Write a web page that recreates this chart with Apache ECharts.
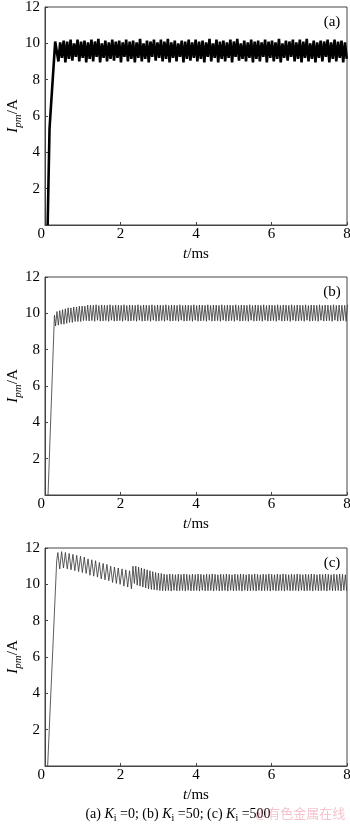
<!DOCTYPE html>
<html>
<head>
<meta charset="utf-8">
<script src="https://cdn.jsdelivr.net/npm/echarts@6/dist/echarts.min.js"></script>
<style>
html, body { margin: 0; padding: 0; background: #fff; }
#chart { width: 350px; height: 825px; }
</style>
</head>
<body>
<div id="chart"></div>
<script>
// 坐标刻度
var xTicks = [0, 2, 4, 6, 8];
var yTicks = [0, 2, 4, 6, 8, 10, 12];
var panelTags = ['(a)', '(b)', '(c)'];

// (a) Ki = 0 : 启动段 + 稳态纹波（每 0.046 ms 一个读数）
var aRiseT = [0.07, 0.12, 0.16, 0.27];
var aRiseV = [0, 5.3, 6.6, 10.1];
var aStart = 0.31, aStep = 0.046;
var aRipple = [
  10.2, 9.0, 10.05, 9.2,     10.15, 8.95, 10.1, 9.15,  10.2, 9.05, 10.0, 9.25,
  10.2, 9.0, 10.1, 9.2,      10.15, 8.95, 10.05, 9.15, 10.2, 9.0, 10.1, 9.25,
  10.25, 8.95, 10.0, 9.2,    10.15, 9.0, 10.05, 9.15,  10.2, 9.05, 10.1, 9.2,
  10.15, 8.95, 10.05, 9.25,  10.2, 9.0, 10.1, 9.15,    10.15, 8.95, 10.05, 9.2,
  10.25, 9.0, 10.0, 9.15,    10.15, 8.95, 10.1, 9.25,  10.2, 9.05, 10.05, 9.2,
  10.2, 9.0, 10.1, 9.15,     10.25, 8.95, 10.05, 9.2,  10.15, 9.0, 10.0, 9.25,
  10.15, 8.95, 10.1, 9.15,   10.2, 9.05, 10.05, 9.2,   10.2, 9.0, 10.1, 9.15,
  10.15, 8.95, 10.05, 9.25,  10.25, 9.0, 10.0, 9.2,    10.2, 8.95, 10.1, 9.15,
  10.15, 9.0, 10.05, 9.2,    10.2, 8.95, 10.1, 9.25,   10.25, 9.05, 10.0, 9.15,
  10.15, 9.0, 10.05, 9.2,    10.2, 8.95, 10.1, 9.15,   10.15, 9.0, 10.05, 9.25,
  10.2, 8.95, 10.1, 9.2,     10.15, 9.0, 10.05, 9.15,  10.25, 8.95, 10.0, 9.2,
  10.15, 9.05, 10.1, 9.25,   10.2, 9.0, 10.05, 9.15,   10.2, 8.95, 10.1, 9.2,
  10.25, 9.0, 10.0, 9.15,    10.15, 8.95, 10.05, 9.2,  10.15, 9.0, 10.1, 9.25,
  10.2, 8.95, 10.05, 9.15,   10.2, 9.0, 10.1, 9.2,     10.15, 8.95, 10.05, 9.15
];

// (b) Ki = 50 : 启动段 + 纹波（谷/峰交替，每 0.037 ms）
var bRiseT = [0.08, 0.25];
var bRiseV = [0, 9.9];
var bStart = 0.28, bStep = 0.037;
var bRipple = [
  9.3, 10.1, 9.35, 10.15, 9.4, 10.2, 9.4, 10.25, 9.45, 10.3, 9.5, 10.3, 9.5, 10.35, 9.55, 10.35, 9.55, 10.4, 9.55, 10.4,
  9.6, 10.4, 9.6, 10.45, 9.58, 10.45, 9.6, 10.44, 9.56, 10.47, 9.62, 10.43, 9.57, 10.46, 9.58, 10.45, 9.6, 10.44, 9.56, 10.47,
  9.62, 10.43, 9.57, 10.46, 9.58, 10.45, 9.6, 10.44, 9.56, 10.47, 9.62, 10.43, 9.57, 10.46, 9.58, 10.45, 9.6, 10.44, 9.56, 10.47,
  9.62, 10.43, 9.57, 10.46, 9.58, 10.45, 9.6, 10.44, 9.56, 10.47, 9.62, 10.43, 9.57, 10.46, 9.58, 10.45, 9.6, 10.44, 9.56, 10.47,
  9.62, 10.43, 9.57, 10.46, 9.58, 10.45, 9.6, 10.44, 9.56, 10.47, 9.62, 10.43, 9.57, 10.46, 9.58, 10.45, 9.6, 10.44, 9.56, 10.47,
  9.62, 10.43, 9.57, 10.46, 9.58, 10.45, 9.6, 10.44, 9.56, 10.47, 9.62, 10.43, 9.57, 10.46, 9.58, 10.45, 9.6, 10.44, 9.56, 10.47,
  9.62, 10.43, 9.57, 10.46, 9.58, 10.45, 9.6, 10.44, 9.56, 10.47, 9.62, 10.43, 9.57, 10.46, 9.58, 10.45, 9.6, 10.44, 9.56, 10.47,
  9.62, 10.43, 9.57, 10.46, 9.58, 10.45, 9.6, 10.44, 9.56, 10.47, 9.62, 10.43, 9.57, 10.46, 9.58, 10.45, 9.6, 10.44, 9.56, 10.47,
  9.62, 10.43, 9.57, 10.46, 9.58, 10.45, 9.6, 10.44, 9.56, 10.47, 9.62, 10.43, 9.57, 10.46, 9.58, 10.45, 9.6, 10.44, 9.56, 10.47,
  9.62, 10.43, 9.57, 10.46, 9.58, 10.45, 9.6, 10.44, 9.56, 10.47, 9.62, 10.43, 9.57, 10.46, 9.58, 10.45, 9.6, 10.44, 9.56, 10.47,
  9.62, 10.43, 9.57, 10.46, 9.58, 10.45, 9.6, 10.44, 9.56, 10.47
];

// (c) Ki = 500 : 启动段 + 超调衰减段(每 0.05 ms) + 稳态段(每 0.0375 ms)
var cRiseT = [0.07, 0.31];
var cRiseV = [0, 11.3];
var cEarlyStart = 0.34, cEarlyStep = 0.05;
var cEarly = [
  11.75, 10.85, 11.8, 10.9, 11.75, 10.85, 11.7, 10.8, 11.65, 10.75, 11.6, 10.7, 11.55, 10.65, 11.5, 10.6, 11.4, 10.5, 11.35, 10.45,
  11.3, 10.4, 11.2, 10.3, 11.15, 10.25, 11.1, 10.2, 11.0, 10.1, 10.95, 10.05, 10.9, 10.0, 10.85, 9.9, 10.8, 9.85, 10.75, 9.75
];
var cLateStart = 2.33, cLateStep = 0.0375;
var cLate = [
  11.0, 10.05, 11.0, 9.95, 10.95, 9.9, 10.9, 9.85, 10.85, 9.8, 10.8, 9.75, 10.75, 9.72, 10.7, 9.7, 10.65, 9.68, 10.62, 9.66,
  10.6, 9.65, 10.56, 9.64, 10.54, 9.66, 10.57, 9.63, 10.55, 9.67, 10.53, 9.64, 10.56, 9.65, 10.54, 9.66, 10.57, 9.63, 10.55, 9.67,
  10.53, 9.64, 10.56, 9.65, 10.54, 9.66, 10.57, 9.63, 10.55, 9.67, 10.53, 9.64, 10.56, 9.65, 10.54, 9.66, 10.57, 9.63, 10.55, 9.67,
  10.53, 9.64, 10.56, 9.65, 10.54, 9.66, 10.57, 9.63, 10.55, 9.67, 10.53, 9.64, 10.56, 9.65, 10.54, 9.66, 10.57, 9.63, 10.55, 9.67,
  10.53, 9.64, 10.56, 9.65, 10.54, 9.66, 10.57, 9.63, 10.55, 9.67, 10.53, 9.64, 10.56, 9.65, 10.54, 9.66, 10.57, 9.63, 10.55, 9.67,
  10.53, 9.64, 10.56, 9.65, 10.54, 9.66, 10.57, 9.63, 10.55, 9.67, 10.53, 9.64, 10.56, 9.65, 10.54, 9.66, 10.57, 9.63, 10.55, 9.67,
  10.53, 9.64, 10.56, 9.65, 10.54, 9.66, 10.57, 9.63, 10.55, 9.67, 10.53, 9.64, 10.56, 9.65, 10.54, 9.66, 10.57, 9.63, 10.55, 9.67,
  10.53, 9.64, 10.56, 9.65, 10.54, 9.66, 10.57, 9.63, 10.55, 9.67, 10.53, 9.64
];

var FONT = 'Liberation Serif';

// 把时间/数值读数拼成 [t, v]
function pairs(ts, vs) {
  var out = [];
  for (var i = 0; i < ts.length; i++) out.push([ts[i], vs[i]]);
  return out;
}
// 等间隔采样的读数
function sampled(start, step, vs) {
  var out = [];
  for (var i = 0; i < vs.length; i++) out.push([start + i * step, vs[i]]);
  return out;
}

var seriesData = [
  pairs(aRiseT, aRiseV).concat(sampled(aStart, aStep, aRipple)),
  pairs(bRiseT, bRiseV).concat(sampled(bStart, bStep, bRipple)),
  pairs(cRiseT, cRiseV).concat(sampled(cEarlyStart, cEarlyStep, cEarly), sampled(cLateStart, cLateStep, cLate))
];

var gridTops = [7, 277, 548];
var gridH = 218;
var lineStyles = [
  { color: '#000', width: 2.6 },
  { color: '#333', width: 0.8 },
  { color: '#333', width: 0.8 }
];

var chart = echarts.init(document.getElementById('chart'), null, { renderer: 'canvas' });

var grids = [], xAxes = [], yAxes = [], series = [], graphics = [];
for (var p = 0; p < 3; p++) {
  grids.push({
    left: 45, top: gridTops[p], width: 302, height: gridH,
    containLabel: false, outerBoundsMode: 'none',
    show: true, borderColor: '#444', borderWidth: 1, backgroundColor: 'transparent'
  });
  xAxes.push({
    gridIndex: p, type: 'value', min: xTicks[0], max: xTicks[xTicks.length - 1], interval: 2,
    axisLine: { lineStyle: { color: '#444' } },
    axisTick: { inside: true, length: 3, lineStyle: { color: '#444' } },
    splitLine: { show: false },
    axisLabel: { color: '#000', fontFamily: FONT, fontSize: 15, margin: 2, alignMinLabel: 'right' },
    name: '{i|t}{n|/ms}', nameLocation: 'middle', nameGap: 22, nameMoveOverlap: false,
    nameTextStyle: { rich: {
      i: { fontFamily: FONT, fontSize: 15, fontStyle: 'italic', color: '#000' },
      n: { fontFamily: FONT, fontSize: 15, color: '#000' }
    } }
  });
  yAxes.push({
    gridIndex: p, type: 'value', min: yTicks[0], max: yTicks[yTicks.length - 1], interval: 2,
    axisLine: { lineStyle: { color: '#444' } },
    axisTick: { inside: true, length: 3, lineStyle: { color: '#444' } },
    splitLine: { show: false },
    axisLabel: { color: '#000', fontFamily: FONT, fontSize: 15, margin: 5, showMinLabel: false },
    name: '{i|I}{s|pm}{n|/A}', nameLocation: 'middle', nameRotate: 90, nameGap: 24, nameMoveOverlap: false,
    nameTextStyle: { rich: {
      i: { fontFamily: FONT, fontSize: 15, fontStyle: 'italic', color: '#000', lineHeight: 18, verticalAlign: 'bottom' },
      s: { fontFamily: FONT, fontSize: 11, fontStyle: 'italic', color: '#000', lineHeight: 18, verticalAlign: 'bottom', padding: [0, 0, -3, 0] },
      n: { fontFamily: FONT, fontSize: 15, color: '#000', lineHeight: 18, verticalAlign: 'bottom' }
    } }
  });
  series.push({
    type: 'line', xAxisIndex: p, yAxisIndex: p, data: seriesData[p],
    showSymbol: false, symbol: 'none', animation: false, clip: true,
    lineStyle: lineStyles[p]
  });
  graphics.push({
    type: 'text', x: 332, y: gridTops[p] + 15,
    style: { text: panelTags[p], font: '15px "' + FONT + '"', fill: '#000', textAlign: 'center', textVerticalAlign: 'middle' }
  });
}

// 图注
graphics.push({
  type: 'text', x: 178, y: 813,
  style: {
    text: '{n|(a) }{k|K}{s|i}{n| =0; (b) }{k|K}{s|i}{n| =50; (c) }{k|K}{s|i}{n| =500}',
    textAlign: 'center', textVerticalAlign: 'middle',
    rich: {
      n: { fontFamily: FONT, fontSize: 14, fill: '#000', lineHeight: 16, verticalAlign: 'bottom' },
      k: { fontFamily: FONT, fontSize: 14, fontStyle: 'italic', fill: '#000', lineHeight: 16, verticalAlign: 'bottom' },
      s: { fontFamily: FONT, fontSize: 10, fill: '#000', lineHeight: 16, verticalAlign: 'bottom', padding: [0, 0, -2, 0] }
    }
  }
});
// 水印
graphics.push({
  type: 'text', x: 255, y: 813,
  style: { text: '@有色金属在线', font: '13px "Noto Sans CJK SC"', fill: 'rgba(235,120,140,0.45)', textVerticalAlign: 'middle' }
});

chart.setOption({
  animation: false,
  grid: grids,
  xAxis: xAxes,
  yAxis: yAxes,
  series: series,
  graphic: graphics
});
</script>
</body>
</html>
